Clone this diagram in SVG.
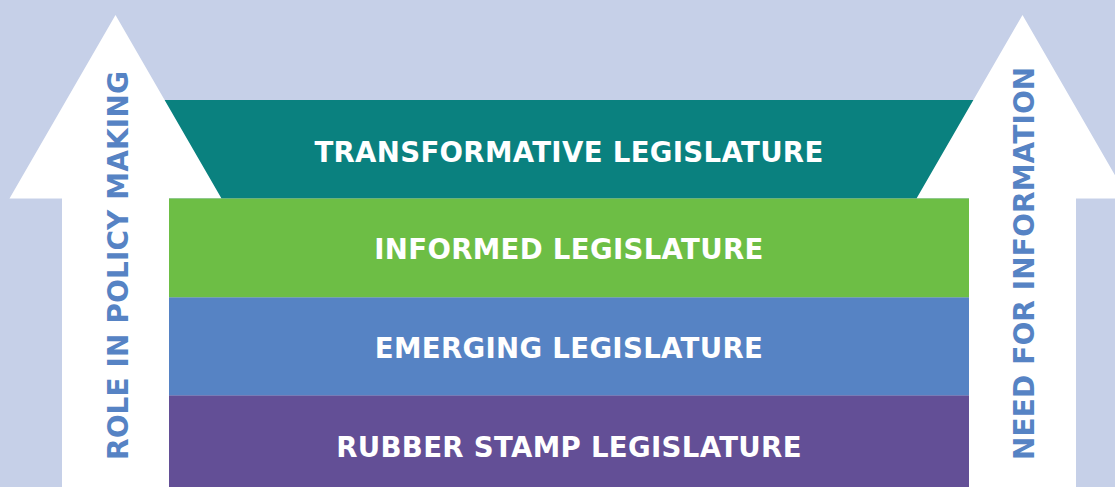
<svg xmlns="http://www.w3.org/2000/svg" width="1115" height="487" viewBox="0 0 1115 487">
  <style>
    .lvl { font-family: "DejaVu Sans", "Liberation Sans", sans-serif; font-weight: bold; font-size: 27.6px; letter-spacing: 0.32px; fill: #ffffff; text-anchor: middle; }
    .side { font-family: "DejaVu Sans", "Liberation Sans", sans-serif; font-weight: bold; font-size: 28px; letter-spacing: 0.1px; fill: #5683C4; text-anchor: start; }
    .arrow { fill: #ffffff; }
  </style>
  <rect x="0" y="0" width="1115" height="487" fill="#C6D0E8"/>
  <g id="transformative">
    <rect x="150" y="100" width="840" height="98.5" fill="#0A817F"/>
  </g>
  <g id="arrow-left">
    <polygon class="arrow" points="115.5,15 221.5,198.5 169,198.5 169,487 62,487 62,198.5 9.5,198.5"/>
    <text class="side" transform="translate(127.5,460) rotate(-90)">ROLE IN POLICY MAKING</text>
  </g>
  <g id="arrow-right">
    <polygon class="arrow" points="1022.5,15 1128.5,198.5 1076,198.5 1076,487 969,487 969,198.5 916.5,198.5"/>
    <text class="side" transform="translate(1034.3,460) rotate(-90)">NEED FOR INFORMATION</text>
  </g>
  <g id="transformative-label">
    <text class="lvl" x="569" y="162">TRANSFORMATIVE LEGISLATURE</text>
  </g>
  <g id="informed">
    <rect x="169" y="198.5" width="800" height="99" fill="#6DBE45"/>
    <text class="lvl" x="569" y="258.5">INFORMED LEGISLATURE</text>
  </g>
  <g id="emerging">
    <rect x="169" y="297.5" width="800" height="98" fill="#5683C4"/>
    <text class="lvl" x="569" y="358">EMERGING LEGISLATURE</text>
  </g>
  <g id="rubber-stamp">
    <rect x="169" y="395.5" width="800" height="91.5" fill="#634F96"/>
    <text class="lvl" x="569" y="456.7">RUBBER STAMP LEGISLATURE</text>
  </g>
  <g id="connectors"></g>
</svg>
